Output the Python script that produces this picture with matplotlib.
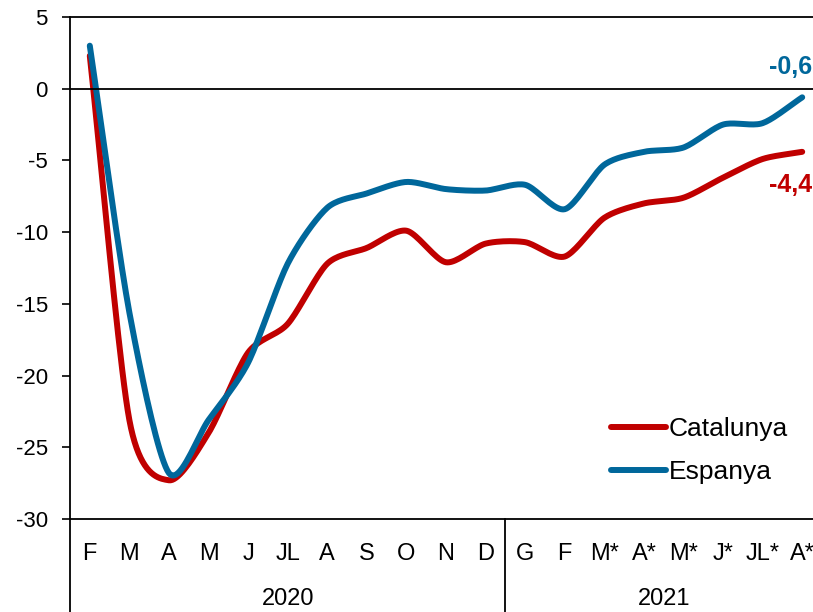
import numpy as np
import matplotlib
matplotlib.use("Agg")
import matplotlib.pyplot as plt
from matplotlib.transforms import blended_transform_factory

plt.rcParams['font.family'] = ['Liberation Sans', 'DejaVu Sans']
plt.rcParams['axes.unicode_minus'] = False

# data
months = ['F', 'M', 'A', 'M', 'J', 'JL', 'A', 'S', 'O', 'N', 'D',
          'G', 'F', 'M*', 'A*', 'M*', 'J*', 'JL*', 'A*']
years = ['2020', '2021']
year_sizes = [11, 8]
catalunya = [2.3, -23.1, -27.3, -24.0, -18.4, -16.4, -12.2, -11.1, -9.9, -12.1, -10.8,
             -10.7, -11.7, -9.0, -8.0, -7.6, -6.2, -4.9, -4.4]
espanya = [3.0, -15.6, -26.8, -23.1, -19.1, -12.2, -8.3, -7.3, -6.5, -7.0, -7.1,
           -6.7, -8.4, -5.3, -4.4, -4.1, -2.5, -2.4, -0.6]
last_labels = ['-4,4', '-0,6']

red = '#c00000'
blue = '#00679b'


def smooth(y, n=20, tension=0.8):
    # cardinal curve through the points (roughly excel's smoothed line)
    y = np.asarray(y, float)
    x = np.arange(len(y), dtype=float)
    px = np.concatenate([[2*x[0]-x[1]], x, [2*x[-1]-x[-2]]])
    py = np.concatenate([[2*y[0]-y[1]], y, [2*y[-1]-y[-2]]])
    xs, ys = [], []
    t = np.linspace(0, 1, n, endpoint=False)
    h00 = 2*t**3 - 3*t**2 + 1
    h10 = t**3 - 2*t**2 + t
    h01 = -2*t**3 + 3*t**2
    h11 = t**3 - t**2
    for i in range(1, len(px)-2):
        for p, out in ((px, xs), (py, ys)):
            m1 = tension*(p[i+1]-p[i-1])/2.
            m2 = tension*(p[i+2]-p[i])/2.
            out.extend(h00*p[i] + h10*m1 + h01*p[i+1] + h11*m2)
    xs.append(x[-1]); ys.append(y[-1])
    return np.array(xs), np.array(ys)


fig = plt.figure(figsize=(8.13, 6.12), dpi=100)
ax = fig.add_axes([70/813., 93/612., 752/813., 502/612.])

x = np.arange(len(months))
sx, sy = smooth(catalunya)
ax.plot(sx, sy, color=red, lw=4.3, solid_capstyle='round', label='Catalunya')
sx, sy = smooth(espanya)
ax.plot(sx, sy, color=blue, lw=4.3, solid_capstyle='round', label='Espanya')

ax.axhline(0, color='black', lw=1.3)

ax.set_xlim(-0.5, len(months)-0.5)
ax.set_ylim(-30, 5)
ax.set_yticks(np.arange(-30, 6, 5))
ax.tick_params(axis='y', labelsize=16, length=6, width=1.2, pad=10)
ax.set_xticks(x)
ax.set_xticklabels(months, fontsize=17)
ax.tick_params(axis='x', length=0, pad=17)
ax.spines['right'].set_visible(False)
for s in ['top', 'left', 'bottom']:
    ax.spines[s].set_linewidth(1.3)

# end labels
ax.text(17.15, espanya[-1]+2.1, last_labels[1], color=blue, fontsize=18,
        fontweight='bold', ha='left', va='center')
ax.text(17.15, catalunya[-1]-2.3, last_labels[0], color=red, fontsize=18,
        fontweight='bold', ha='left', va='center')

# year level of the axis
tr = blended_transform_factory(ax.transData, fig.transFigure)
ax.plot([-0.5, -0.5], [0, 93/612.], transform=tr, color='black', lw=1.3, clip_on=False)
start = -0.5
for yr, n in zip(years, year_sizes):
    ax.text(start + n/2., 13/612., yr, transform=tr, fontsize=17, ha='center', va='center')
    start += n
    ax.plot([start, start], [0, 93/612.], transform=tr, color='black', lw=1.3, clip_on=False)

ax.legend(loc='upper left', bbox_to_anchor=(611/813., (612-417)/612.), bbox_transform=fig.transFigure,
          frameon=False, fontsize=19, borderpad=0, borderaxespad=0,
          handlelength=2.1, handletextpad=0.1, labelspacing=0.72)

fig.savefig('out.png', dpi=100)
